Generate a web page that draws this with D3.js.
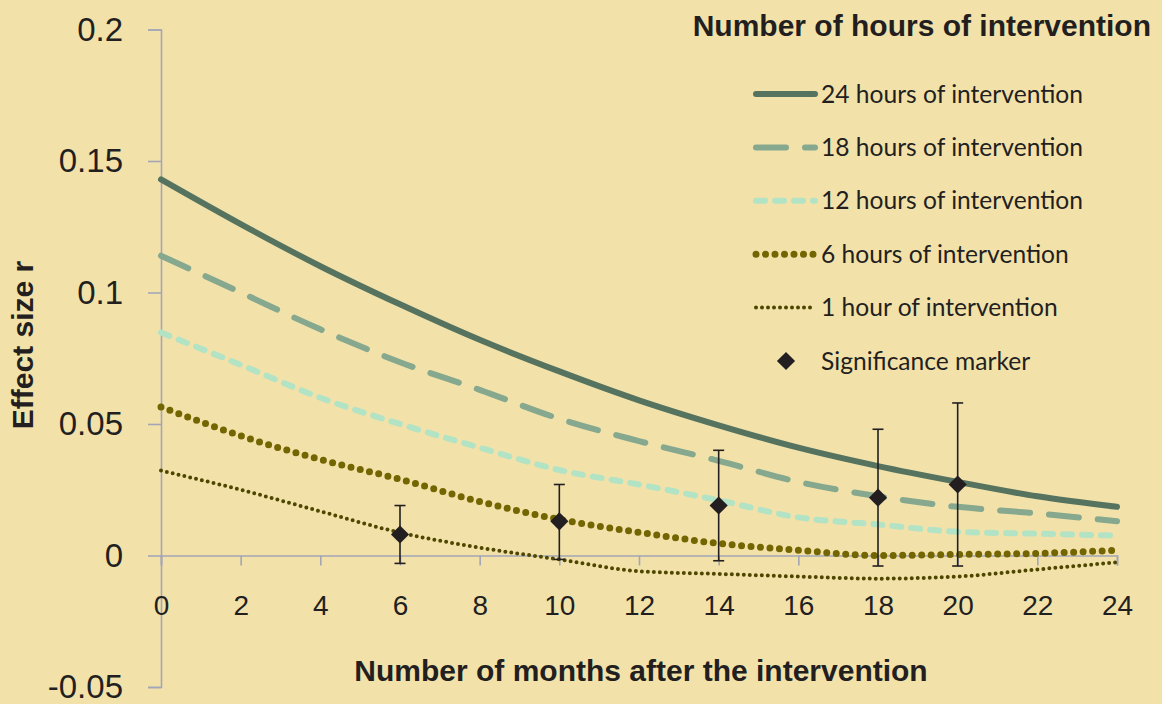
<!DOCTYPE html>
<html>
<head>
<meta charset="utf-8">
<script src="https://cdn.jsdelivr.net/npm/d3@7"></script>
<style>
  body { margin: 0; background: #f2e2aa; }
  svg { display: block; }
  .axis path, .axis line { stroke: #a3a6b6; stroke-width: 1.6; }
  .axis text { fill: #231f20; font-family: "Liberation Sans", Arial, sans-serif; }
  .title { fill: #231f20; font-family: "Liberation Sans", Arial, sans-serif; font-weight: bold; font-size: 30px; }
  .legend text { fill: #231f20; font-family: Lato, "Open Sans", sans-serif; font-size: 24.6px; }
</style>
</head>
<body>
<div id="chart"></div>
<script>
// data
var months = [0, 2, 4, 6, 8, 10, 12, 14, 16, 18, 20, 22, 24];
var hours24 = [0.143, 0.126, 0.110, 0.0955, 0.082, 0.070, 0.059, 0.0495, 0.041, 0.034, 0.028, 0.0225, 0.0185];
var hours18 = [0.114, 0.100, 0.086, 0.0735, 0.063, 0.052, 0.0435, 0.036, 0.028, 0.0225, 0.0185, 0.016, 0.013];
var hours12 = [0.0848, 0.0725, 0.060, 0.050, 0.041, 0.0325, 0.027, 0.021, 0.0145, 0.0118, 0.009, 0.0083, 0.0076];
var hours6 = [0.0565, 0.0455, 0.0365, 0.029, 0.0205, 0.0137, 0.0088, 0.0046, 0.002, 0.0, 0.0004, 0.0008, 0.002];
var hours1 = [0.0323, 0.025, 0.0168, 0.0087, 0.003, -0.0015, -0.006, -0.007, -0.008, -0.0088, -0.008, -0.0053, -0.0026];

var sigMonths = [6, 10, 14, 18, 20];
var sigValues = [0.008, 0.013, 0.019, 0.022, 0.027];
var sigUpper = [0.019, 0.027, 0.040, 0.048, 0.058];
var sigLower = [-0.003, -0.0015, -0.002, -0.004, -0.004];

var yTicks = [-0.05, 0, 0.05, 0.1, 0.15, 0.2];
var xTicks = [0, 2, 4, 6, 8, 10, 12, 14, 16, 18, 20, 22, 24];

var seriesNames = ["24 hours of intervention", "18 hours of intervention", "12 hours of intervention",
    "6 hours of intervention", "1 hour of intervention"];

var W = 1162, H = 704;

var series = [
    { name: seriesNames[0], values: hours24, color: "#56735f", width: 6, dash: null },
    { name: seriesNames[1], values: hours18, color: "#86a88e", width: 6, dash: "30 19" },
    { name: seriesNames[2], values: hours12, color: "#b3e3c5", width: 6, dash: "9 10" },
    { name: seriesNames[3], values: hours6, color: "#736600", width: 7, dash: "0 9.5" },
    { name: seriesNames[4], values: hours1, color: "#4f4700", width: 4, dash: "0 6" }
];

var svg = d3.select("#chart").append("svg")
    .attr("width", W)
    .attr("height", H);

svg.append("rect").attr("width", W).attr("height", H).attr("fill", "#f2e2aa");

var x = d3.scaleLinear().domain([0, 24]).range([161, 1117]);
var y = d3.scaleLinear().domain([-0.05, 0.2]).range([687, 29.5]);

// y axis
var yAxis = svg.append("g")
    .attr("class", "axis")
    .attr("transform", "translate(" + x(0) + ",0)")
    .call(d3.axisLeft(y).tickValues(yTicks).tickSizeOuter(0).tickSize(13).tickPadding(25)
        .tickFormat(d => String(+d.toFixed(2))));
yAxis.selectAll("text").attr("font-size", 33);

// x axis sits on zero
var xAxis = svg.append("g")
    .attr("class", "axis")
    .attr("transform", "translate(0," + y(0) + ")")
    .call(d3.axisBottom(x).tickValues(xTicks).tickSizeOuter(0).tickSize(10).tickPadding(30));
xAxis.selectAll("text").attr("font-size", 28);

// lines
var line = d3.line()
    .x((d, i) => x(months[i]))
    .y(d => y(d))
    .curve(d3.curveMonotoneX);

svg.append("g").selectAll(".series")
    .data(series)
    .enter().append("path")
    .attr("class", "series")
    .attr("fill", "none")
    .attr("stroke", d => d.color)
    .attr("stroke-width", d => d.width)
    .attr("stroke-linecap", "round")
    .attr("stroke-dasharray", d => d.dash)
    .attr("d", d => line(d.values));

// error bars + markers
var sig = svg.append("g");
sigMonths.forEach(function(m, i) {
    var g = sig.append("g").attr("stroke", "#231f20").attr("stroke-width", 1.6);
    g.append("line").attr("x1", x(m)).attr("x2", x(m)).attr("y1", y(sigUpper[i])).attr("y2", y(sigLower[i]));
    g.append("line").attr("x1", x(m) - 5.5).attr("x2", x(m) + 5.5).attr("y1", y(sigUpper[i])).attr("y2", y(sigUpper[i]));
    g.append("line").attr("x1", x(m) - 5.5).attr("x2", x(m) + 5.5).attr("y1", y(sigLower[i])).attr("y2", y(sigLower[i]));
});
var diamond = d3.symbol().type(d3.symbolSquare).size(165);
sig.selectAll(".marker")
    .data(sigMonths)
    .enter().append("path")
    .attr("class", "marker")
    .attr("fill", "#231f20")
    .attr("d", diamond)
    .attr("transform", (d, i) => "translate(" + x(d) + "," + y(sigValues[i]) + ") rotate(45)");

// titles
svg.append("text").attr("class", "title")
    .attr("x", 641).attr("y", 681)
    .attr("text-anchor", "middle")
    .text("Number of months after the intervention");

svg.append("text").attr("class", "title")
    .attr("transform", "translate(33,345) rotate(-90)")
    .attr("text-anchor", "middle")
    .text("Effect size r");

svg.append("text").attr("class", "title")
    .attr("x", 1151).attr("y", 36)
    .attr("text-anchor", "end")
    .text("Number of hours of intervention");

// legend
var legend = svg.append("g").attr("class", "legend");
var rowY = d3.scalePoint().domain(d3.range(6)).range([94, 361]);

series.forEach(function(s, i) {
    legend.append("line")
        .attr("x1", 756).attr("x2", 815)
        .attr("y1", rowY(i)).attr("y2", rowY(i))
        .attr("stroke", s.color)
        .attr("stroke-width", s.width)
        .attr("stroke-linecap", "round")
        .attr("stroke-dasharray", s.dash);
    legend.append("text")
        .attr("x", 821).attr("y", rowY(i))
        .attr("dy", "0.35em")
        .text(s.name);
});
legend.append("path")
    .attr("fill", "#231f20")
    .attr("d", diamond)
    .attr("transform", "translate(786," + rowY(5) + ") rotate(45)");
legend.append("text")
    .attr("x", 821).attr("y", rowY(5))
    .attr("dy", "0.35em")
    .text("Significance marker");
</script>
</body>
</html>
